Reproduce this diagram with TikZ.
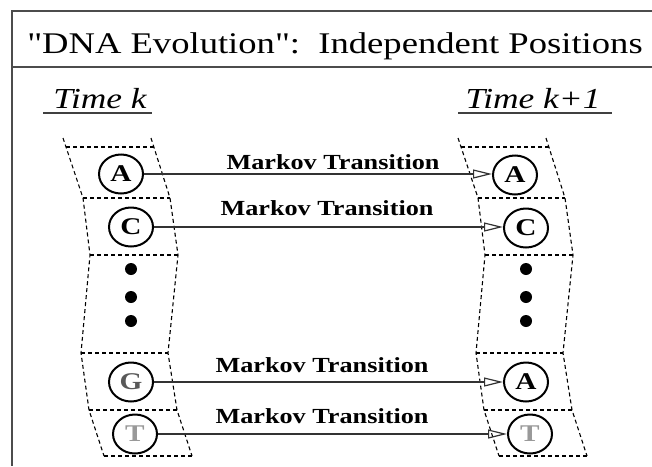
\documentclass[tikz,border=0pt]{standalone}
\usepackage{fontspec}
\setmainfont{Liberation Serif}
\newfontfamily\plainserif{Liberation Serif}[Ligatures=TeXOff]
\usetikzlibrary{shapes.geometric,arrows.meta}

% horizontally widened text
\newcommand{\wide}[1]{\scalebox{1.22}[1]{#1}}

% one column of sequence positions (dashed, slightly bent strip)
\newcommand{\posstrip}{%
  \draw[posline] (63,138) -- (83,198) -- (90,255) -- (81,353) -- (89,410) -- (104,456);
  \draw[posline] (151,138) -- (170,198) -- (178,255) -- (168,353) -- (177,410) -- (192,456);
  \draw[posline] (66,147) -- (154,147);
  \draw[posline] (83,198) -- (170,198);
  \draw[posline] (90,255) -- (178,255);
  \draw[posline] (81,353) -- (168,353);
  \draw[posline] (89,410) -- (177,410);
  \draw[posline] (104,456) -- (192,456);
}

\tikzset{
  frameline/.style={draw=black!70, line width=1.3pt},
  posline/.style={draw=black, line width=1.1pt, dash pattern=on 4pt off 3pt},
  base/.style={ellipse, draw=black, line width=2pt, minimum width=44pt,
               minimum height=39pt, inner sep=0pt, font=\fontsize{24}{24}\selectfont\bfseries},
  dotmark/.style={circle, fill=black, minimum size=12pt, inner sep=0pt},
  trans/.style={draw=black!80, line width=1.1pt,
                -{Triangle[open, length=19pt, width=9pt, line width=1.2pt]}},
  mlabel/.style={anchor=base, inner sep=0pt, font=\fontsize{21.5}{21.5}\selectfont\bfseries},
  timelabel/.style={anchor=base, inner sep=0pt, font=\fontsize{29}{29}\selectfont\itshape},
}

\begin{document}
\begin{tikzpicture}[x=1pt, y=-1pt]
\useasboundingbox (0,0) rectangle (652,466);

% frame and title bar
\draw[frameline] (652,11) -- (12,11) -- (12,466);
\draw[frameline] (12,67) -- (652,67);
\node[anchor=base, inner sep=0pt, font=\fontsize{30}{30}\selectfont\plainserif] (title) at (335,53)
  {\wide{"DNA Evolution":\ \ Independent Positions}};

% column headings
\node[timelabel] (tk) at (100,108) {\wide{Time k}};
\node[timelabel] (tk1) at (533,108) {\wide{Time k+1}};
\draw[black!75, line width=1.1pt] (43,113) -- (152,113);
\draw[black!75, line width=1.1pt] (458,113) -- (612,113);

% position strips
\posstrip
\begin{scope}[shift={(395,0)}]
\posstrip
\end{scope}

% bases at time k
\node[base] (la) at (121,174) {\wide{A}};
\node[base] (lc) at (131,227) {\wide{C}};
\node[dotmark] (ld1) at (131,269) {};
\node[dotmark] (ld2) at (131,297) {};
\node[dotmark] (ld3) at (131,321) {};
\node[base] (lg) at (131,382) {\wide{\textcolor{black!65}{G}}};
\node[base] (lt) at (135,434) {\wide{\textcolor{black!40}{T}}};

% bases at time k+1
\node[base] (ra) at (515,175) {\wide{A}};
\node[base] (rc) at (526,228) {\wide{C}};
\node[dotmark] (rd1) at (526,269) {};
\node[dotmark] (rd2) at (526,297) {};
\node[dotmark] (rd3) at (526,321) {};
\node[base] (rg) at (526,382) {\wide{A}};
\node[base] (rt) at (530,434) {\wide{\textcolor{black!40}{T}}};

% transitions
\draw[trans] (la.east) -- (la.east -| ra.west);
\draw[trans] (lc.east) -- (lc.east -| rc.west);
\draw[trans] (lg.east) -- (lg.east -| rg.west);
\draw[trans] (lt.east) -- (lt.east -| rt.west);

\node[mlabel] (m1) at (333,169) {\wide{Markov Transition}};
\node[mlabel] (m2) at (327,215) {\wide{Markov Transition}};
\node[mlabel] (m3) at (322,372) {\wide{Markov Transition}};
\node[mlabel] (m4) at (322,423) {\wide{Markov Transition}};
\end{tikzpicture}
\end{document}
